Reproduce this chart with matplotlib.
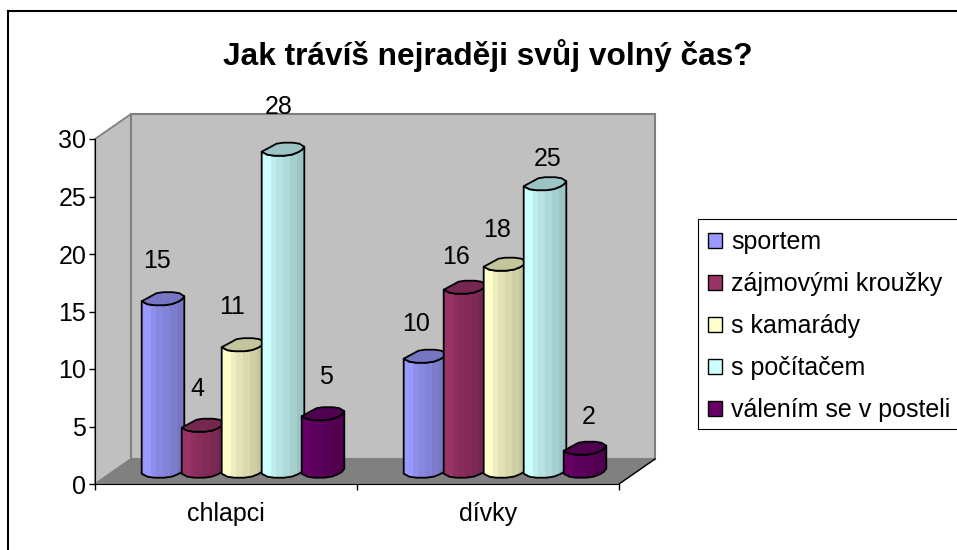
import numpy as np
import matplotlib
matplotlib.use("Agg")
import matplotlib.pyplot as plt
from matplotlib.lines import Line2D
from matplotlib.patches import Patch, Polygon, Rectangle
from matplotlib.colors import to_rgb

plt.rcParams["font.family"] = ["Liberation Sans", "DejaVu Sans"]

categories = ["chlapci", "dívky"]
series = ["sportem", "zájmovými kroužky", "s kamarády", "s počítačem", "válením se v posteli"]
chlapci = [15, 4, 11, 28, 5]
divky = [10, 16, 18, 25, 2]
colors = ["#9999FF", "#993366", "#FFFFCC", "#CCFFFF", "#660066"]
yticks = [0, 5, 10, 15, 20, 25, 30]

# label nudges in pixels, the old Excel placement is not regular
label_dx = [[-6, -6, -11, -4, 3], [-9, -9, -8, 3, 4]]
label_dy = [37, 36, 38, 42, 37], [32, 30, 34, 25, 31]

W, H = 957, 550
PX_X = 262.0      # pixels per category
PX_Y = 11.5       # pixels per value unit
DEPTH_X, DEPTH_Y = 36, 25
BANDS = [1.0, 0.93, 0.89, 0.85, 0.81, 0.77]
# the lumpy cylinder rim, pixels from its centre (y up)
RIM_BACK = [(-21.3, -2.7), (-12, 2.3), (-4.7, 6.3), (14.7, 6.3), (21.3, 2.3)]
RIM_FRONT = [(21.3, 2.3), (18, -2), (6.3, -6.7), (-13.7, -6.7), (-21.3, -2.7)]


def px(v):
    return v / PX_X


def py(v):
    return v / PX_Y


def smooth(pts):
    # one corner-cutting pass, end points stay put
    out = [pts[0]]
    for (a, b), (c, d) in zip(pts[:-1], pts[1:]):
        out.append((0.75 * a + 0.25 * c, 0.75 * b + 0.25 * d))
        out.append((0.25 * a + 0.75 * c, 0.25 * b + 0.75 * d))
    out.append(pts[-1])
    return out


FRONT = smooth(RIM_FRONT)
BACK = smooth(RIM_BACK)

fig = plt.figure(figsize=(W / 100, H / 100), dpi=100, facecolor="white")
ax = fig.add_axes([95 / W, (H - 484) / H, 524 / W, 345 / H])
ax.set_xlim(0, 2)
ax.set_ylim(0, 30)
ax.patch.set_visible(False)

# ---------------- walls and floor ----------------
dx, dy = px(DEPTH_X), py(DEPTH_Y)
GRAY = "#808080"
ax.add_patch(Polygon([(0, 0), (dx, dy), (dx, 30 + dy), (0, 30)], closed=True, fc="#C0C0C0",
                     ec=GRAY, lw=1.3, clip_on=False, zorder=1))
ax.add_patch(Polygon([(dx, dy), (2 + dx, dy), (2 + dx, 30 + dy), (dx, 30 + dy)], closed=True,
                     fc="#C0C0C0", ec=GRAY, lw=1.5, clip_on=False, zorder=1))
ax.add_patch(Polygon([(0, 0), (dx, dy), (2 + dx, dy), (2, 0)], closed=True, fc=GRAY,
                     ec=GRAY, lw=0.8, clip_on=False, zorder=1))
ax.plot([2, 2 + dx], [0, dy], color="black", lw=1, clip_on=False, zorder=2)


# ---------------- cylinders ----------------
def rim(cx, level, pts):
    return [(cx + px(a), level + py(b)) for a, b in pts]


def cylinder(cx, value, color, z):
    base = py(13)
    top = base + value
    rgb = np.array(to_rgb(color))
    outline = rim(cx, base, FRONT[::-1]) + rim(cx, top, FRONT)
    body = Polygon(outline, closed=True, fc="none", ec="none", clip_on=False, zorder=z)
    ax.add_patch(body)
    edges = np.linspace(cx - px(21.5), cx + px(21.5), len(BANDS) + 1)
    edges[1] = cx - px(12)
    for i, f in enumerate(BANDS):
        band = Rectangle((edges[i], 0), edges[i + 1] - edges[i], top + py(10), fc=rgb * f,
                         ec="none", zorder=z + 0.1, clip_on=True)
        ax.add_patch(band)
        band.set_clip_path(body)
    ax.add_patch(Polygon(outline, closed=True, fc="none", ec="black", lw=1.3, clip_on=False,
                         joinstyle="round", zorder=z + 0.2))
    ax.add_patch(Polygon(rim(cx, top, BACK + FRONT[1:-1]), closed=True, fc=rgb * 0.77,
                         ec="black", lw=1.3, clip_on=False, joinstyle="round", zorder=z + 0.3))


for g, values in enumerate([chlapci, divky]):
    for i, v in enumerate(values):
        cx = g + px(68 + 40 * i)
        cylinder(cx, v, colors[i], 3 + i + g * 10)
        ax.text(cx + px(label_dx[g][i]), py(13) + v + py(label_dy[g][i]), str(v), fontsize=18,
                ha="center", va="center", color="black", zorder=40, clip_on=False)

# ---------------- axes ----------------
for s in ("top", "right"):
    ax.spines[s].set_visible(False)
ax.spines["left"].set_zorder(30)
ax.spines["bottom"].set_zorder(30)
ax.set_yticks(yticks)
ax.tick_params(axis="y", length=4.3, width=1, labelsize=18, pad=2)
ax.set_xticks([0, 1, 2])
ax.set_xticklabels([])
ax.tick_params(axis="x", which="major", length=4.3, width=1)
ax.set_xticks([0.5, 1.5], minor=True)
ax.set_xticklabels(categories, minor=True, fontsize=18)
ax.tick_params(axis="x", which="minor", length=0, pad=13)

fig.text(488 / W, 1 - 56 / H, "Jak trávíš nejraději svůj volný čas?", fontsize=22.8, fontweight="bold",
         ha="center", va="center")

# ---------------- legend ----------------
fig.add_artist(Rectangle((698 / W, 1 - 429 / H), 300 / W, 210 / H, transform=fig.transFigure,
                         fc="white", ec="black", lw=0.8))
handles = [Patch(fc=c, ec="black", lw=1.0) for c in colors]
fig.legend(handles, series, loc="upper left", bbox_to_anchor=(703 / W, 1 - 225 / H), frameon=False,
           fontsize=18, labelspacing=0.72, handlelength=0.56, handleheight=0.56,
           handletextpad=0.36, borderpad=0.2, borderaxespad=0)

# ---------------- outer frame ----------------
fig.add_artist(Line2D([8 / W, 8 / W], [0, 1 - 11 / H], color="black", lw=1.5))
fig.add_artist(Line2D([8 / W, 1], [1 - 11 / H, 1 - 11 / H], color="black", lw=1.5))

fig.savefig("out.png", dpi=100, facecolor="white")
